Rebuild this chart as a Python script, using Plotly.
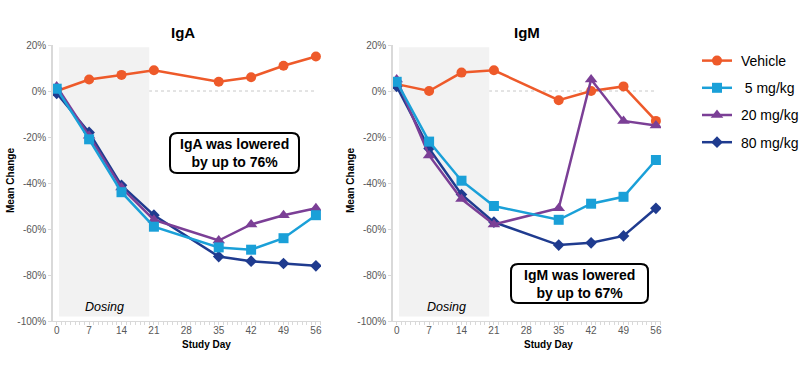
import plotly.graph_objects as go

# ---------------- data ----------------
days = [0, 7, 14, 21, 35, 42, 49, 56]
series_names = ["Vehicle", "5 mg/kg", "20 mg/kg", "80 mg/kg"]
legend_labels = ["\u00a0Vehicle", "\u00a0\u00a05 mg/kg", "\u00a020 mg/kg", "\u00a080 mg/kg"]

iga_vehicle = [0.00, 0.05, 0.07, 0.09, 0.04, 0.06, 0.11, 0.15]
iga_5 = [0.01, -0.21, -0.44, -0.59, -0.68, -0.69, -0.64, -0.54]
iga_20 = [0.02, -0.195, -0.42, -0.56, -0.65, -0.58, -0.54, -0.51]
iga_80 = [-0.01, -0.18, -0.41, -0.54, -0.72, -0.74, -0.75, -0.76]

igm_vehicle = [0.03, 0.00, 0.08, 0.09, -0.04, 0.00, 0.02, -0.13]
igm_5 = [0.04, -0.22, -0.39, -0.50, -0.56, -0.49, -0.46, -0.30]
igm_20 = [0.05, -0.28, -0.47, -0.58, -0.51, 0.05, -0.13, -0.15]
igm_80 = [0.02, -0.25, -0.45, -0.57, -0.67, -0.66, -0.63, -0.51]

x_tickvals = [0, 7, 14, 21, 28, 35, 42, 49, 56]
x_ticktext = ["0", "7", "14", "21", "28", "35", "42", "49", "56"]
y_tickvals = [0.2, 0, -0.2, -0.4, -0.6, -0.8, -1.0]
y_ticktext = ["20%", "0%", "-20%", "-40%", "-60%", "-80%", "-100%"]

dosing_start, dosing_end = 0.5, 20

# ---------------- styles ----------------
colors = {"Vehicle": "#EE5A2A", "5 mg/kg": "#1AA0D8",
          "20 mg/kg": "#7B3F96", "80 mg/kg": "#1F3B8F"}
symbols = {"Vehicle": "circle", "5 mg/kg": "square",
           "20 mg/kg": "triangle-up", "80 mg/kg": "diamond"}
msize = {"Vehicle": 10, "5 mg/kg": 10, "20 mg/kg": 11, "80 mg/kg": 9}
FONT = "Liberation Sans, Arial, sans-serif"

W, H = 806, 370

fig = go.Figure()

panels = [
    ("x", "y", {"Vehicle": iga_vehicle, "5 mg/kg": iga_5, "20 mg/kg": iga_20, "80 mg/kg": iga_80}),
    ("x2", "y2", {"Vehicle": igm_vehicle, "5 mg/kg": igm_5, "20 mg/kg": igm_20, "80 mg/kg": igm_80}),
]

draw_order = ["Vehicle", "80 mg/kg", "20 mg/kg", "5 mg/kg"]
for pi, (xa, ya, data) in enumerate(panels):
    for name in draw_order:
        idx = series_names.index(name)
        fig.add_trace(go.Scatter(
            x=days, y=data[name], mode="lines+markers", name=legend_labels[idx],
            xaxis=xa, yaxis=ya,
            line=dict(color=colors[name], width=2.5),
            marker=dict(symbol=symbols[name], size=msize[name], color=colors[name]),
            showlegend=(pi == 0), legendrank=idx + 1,
            legendgroup=name,
        ))

xrange = [-0.8, 57.1]
yrange = [-1.0, 0.2]
ydom = [1 - 321 / H, 1 - 45 / H]


def xaxis_cfg(dom):
    return dict(domain=dom, range=xrange, tickvals=x_tickvals, ticktext=x_ticktext,
                showline=True, linecolor="#d9d9d9", linewidth=1, showgrid=False,
                zeroline=False, ticks="", ticklen=0,
                minor=dict(dtick=1, ticks="outside", ticklen=3, tickcolor="#d9d9d9"),
                tickfont=dict(family=FONT, size=10, color="#595959"), fixedrange=True)


def yaxis_cfg(anchor):
    return dict(domain=ydom, range=yrange, tickvals=y_tickvals, ticktext=y_ticktext,
                showline=True, linecolor="#d9d9d9", linewidth=1.5, showgrid=False,
                zeroline=False, ticks="outside", ticklen=3, tickcolor="#d9d9d9",
                tickfont=dict(family=FONT, size=10, color="#595959"), anchor=anchor,
                fixedrange=True)


fig.update_layout(
    width=W, height=H,
    margin=dict(l=0, r=0, t=0, b=0, autoexpand=False),
    paper_bgcolor="white", plot_bgcolor="white",
    xaxis=xaxis_cfg([53 / W, 321 / W]) | dict(anchor="y"),
    yaxis=yaxis_cfg("x"),
    xaxis2=xaxis_cfg([393 / W, 661 / W]) | dict(anchor="y2"),
    yaxis2=yaxis_cfg("x2"),
    legend=dict(x=697 / W, y=1 - 45 / H, xanchor="left", yanchor="top",
                font=dict(family=FONT, size=14, color="#000"),
                tracegroupgap=6, itemwidth=30, bgcolor="rgba(0,0,0,0)"),
    font=dict(family=FONT),
)

shapes = []
for xa, ya in [("x", "y"), ("x2", "y2")]:
    shapes.append(dict(type="rect", xref=xa, yref=ya, x0=dosing_start, x1=dosing_end,
                       y0=-0.98, y1=0.19, fillcolor="#f2f2f2", line=dict(width=0), layer="below"))
    shapes.append(dict(type="line", xref=xa + " domain", yref=ya, x0=0, x1=0.985, y0=0, y1=0,
                       line=dict(color="#c8c8c8", width=1, dash="dot"), layer="below"))


def rounded_box(x0, y0, x1, y1, r):
    # pixel coords -> paper coords path
    def P(x, y):
        return f"{x / W:.5f},{1 - y / H:.5f}"
    return (f"M {P(x0 + r, y0)} L {P(x1 - r, y0)} Q {P(x1, y0)} {P(x1, y0 + r)} "
            f"L {P(x1, y1 - r)} Q {P(x1, y1)} {P(x1 - r, y1)} L {P(x0 + r, y1)} "
            f"Q {P(x0, y1)} {P(x0, y1 - r)} L {P(x0, y0 + r)} Q {P(x0, y0)} {P(x0 + r, y0)} Z")


for (bx0, by0, bx1, by1) in [(170, 133, 299, 173), (511, 264, 648, 303)]:
    shapes.append(dict(type="path", xref="paper", yref="paper",
                       path=rounded_box(bx0, by0, bx1, by1, 7),
                       fillcolor="white", line=dict(color="black", width=2)))
fig.update_layout(shapes=shapes)


def ann(text, x, y, size, bold=False, italic=False, color="#000", angle=0):
    t = text
    if bold:
        t = f"<b>{t}</b>"
    if italic:
        t = f"<i>{t}</i>"
    return dict(text=t, x=x / W, y=1 - y / H, xref="paper", yref="paper",
                showarrow=False, xanchor="center", yanchor="middle", textangle=angle,
                font=dict(family=FONT, size=size, color=color))


annotations = [
    ann("IgA", 183, 33, 15, bold=True),
    ann("IgM", 527, 32, 15, bold=True),
    ann("Study Day", 207, 344, 10, bold=True),
    ann("Study Day", 548, 344, 10, bold=True),
    ann("Mean Change", 10, 181, 10, bold=True, angle=-90),
    ann("Mean Change", 350, 181, 10, bold=True, angle=-90),
    ann("Dosing", 104, 307, 12.5, italic=True),
    ann("Dosing", 446, 307, 12.5, italic=True),
    ann("IgA was lowered<br>by up to 76%", 234.5, 153, 14, bold=True),
    ann("IgM was lowered<br>by up to 67%", 579.5, 283.5, 14, bold=True),
]
fig.update_layout(annotations=annotations)

fig.write_html("out.html", config={"displayModeBar": False},
               post_script="document.body.style.margin='0';document.body.style.padding='0';")
